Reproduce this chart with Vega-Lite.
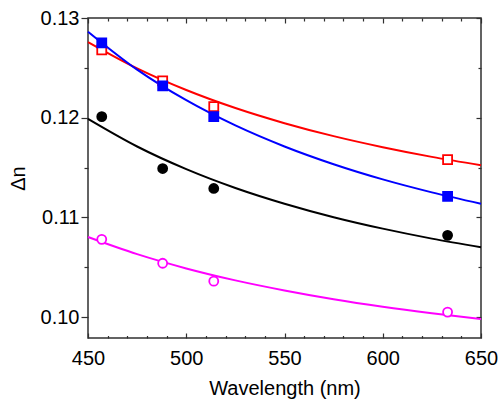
{
  "$schema": "https://vega.github.io/schema/vega-lite/v6.json",
  "width": 393,
  "height": 320,
  "padding": 8,
  "config": {
    "font": "Liberation Sans",
    "view": {"stroke": "#303030", "strokeWidth": 1.5},
    "axis": {"grid": false, "domain": false, "tickColor": "#303030", "tickWidth": 1.2}
  },
  "datasets": {
    "measured": [
      {"series": "UCF-N1", "wavelength": 457, "dn": 0.1268},
      {"series": "UCF-N1", "wavelength": 488, "dn": 0.1237},
      {"series": "UCF-N1", "wavelength": 514, "dn": 0.1211},
      {"series": "UCF-N1", "wavelength": 633, "dn": 0.1158},
      {"series": "HAV", "wavelength": 457, "dn": 0.1201},
      {"series": "HAV", "wavelength": 488, "dn": 0.1149},
      {"series": "HAV", "wavelength": 514, "dn": 0.1129},
      {"series": "HAV", "wavelength": 633, "dn": 0.1082},
      {"series": "ZOC", "wavelength": 457, "dn": 0.1078},
      {"series": "ZOC", "wavelength": 488, "dn": 0.1054},
      {"series": "ZOC", "wavelength": 514, "dn": 0.1036},
      {"series": "ZOC", "wavelength": 633, "dn": 0.1005},
      {"series": "UCF-N2", "wavelength": 457, "dn": 0.1275},
      {"series": "UCF-N2", "wavelength": 488, "dn": 0.1232},
      {"series": "UCF-N2", "wavelength": 514, "dn": 0.1201},
      {"series": "UCF-N2", "wavelength": 633, "dn": 0.1121}
    ],
    "fit": [
      {"curve": "UCF-N1", "wavelength": 450, "fit": 0.12759},
      {"curve": "UCF-N1", "wavelength": 475, "fit": 0.12495},
      {"curve": "UCF-N1", "wavelength": 500, "fit": 0.12278},
      {"curve": "UCF-N1", "wavelength": 525, "fit": 0.12097},
      {"curve": "UCF-N1", "wavelength": 550, "fit": 0.11945},
      {"curve": "UCF-N1", "wavelength": 575, "fit": 0.11815},
      {"curve": "UCF-N1", "wavelength": 600, "fit": 0.11704},
      {"curve": "UCF-N1", "wavelength": 625, "fit": 0.11607},
      {"curve": "UCF-N1", "wavelength": 650, "fit": 0.11523},
      {"curve": "UCF-N2", "wavelength": 450, "fit": 0.12863},
      {"curve": "UCF-N2", "wavelength": 475, "fit": 0.12482},
      {"curve": "UCF-N2", "wavelength": 500, "fit": 0.12175},
      {"curve": "UCF-N2", "wavelength": 525, "fit": 0.11922},
      {"curve": "UCF-N2", "wavelength": 550, "fit": 0.11711},
      {"curve": "UCF-N2", "wavelength": 575, "fit": 0.11533},
      {"curve": "UCF-N2", "wavelength": 600, "fit": 0.11381},
      {"curve": "UCF-N2", "wavelength": 625, "fit": 0.11251},
      {"curve": "UCF-N2", "wavelength": 650, "fit": 0.11137},
      {"curve": "HAV", "wavelength": 450, "fit": 0.11988},
      {"curve": "HAV", "wavelength": 475, "fit": 0.11711},
      {"curve": "HAV", "wavelength": 500, "fit": 0.11484},
      {"curve": "HAV", "wavelength": 525, "fit": 0.11295},
      {"curve": "HAV", "wavelength": 550, "fit": 0.11137},
      {"curve": "HAV", "wavelength": 575, "fit": 0.11002},
      {"curve": "HAV", "wavelength": 600, "fit": 0.10887},
      {"curve": "HAV", "wavelength": 625, "fit": 0.10787},
      {"curve": "HAV", "wavelength": 650, "fit": 0.10700},
      {"curve": "ZOC", "wavelength": 450, "fit": 0.10803},
      {"curve": "ZOC", "wavelength": 475, "fit": 0.10631},
      {"curve": "ZOC", "wavelength": 500, "fit": 0.10488},
      {"curve": "ZOC", "wavelength": 525, "fit": 0.10368},
      {"curve": "ZOC", "wavelength": 550, "fit": 0.10267},
      {"curve": "ZOC", "wavelength": 575, "fit": 0.10179},
      {"curve": "ZOC", "wavelength": 600, "fit": 0.10104},
      {"curve": "ZOC", "wavelength": 625, "fit": 0.10039},
      {"curve": "ZOC", "wavelength": 650, "fit": 0.09981}
    ]
  },
  "layer": [
    {
      "data": {"name": "fit"},
      "mark": {"type": "line", "strokeWidth": 2, "interpolate": "monotone"},
      "encoding": {
        "x": {"field": "wavelength", "type": "quantitative",
          "scale": {"domain": [450, 650], "nice": false, "zero": false},
          "axis": {"orient": "top", "labels": false, "title": null, "values": [450, 500, 550, 600, 650], "tickSize": -5}},
        "y": {"field": "fit", "type": "quantitative",
          "scale": {"domain": [0.0979, 0.13], "nice": false, "zero": false},
          "axis": {"orient": "right", "labels": false, "title": null, "values": [0.1, 0.11, 0.12, 0.13], "tickSize": -5}},
        "stroke": {"field": "curve", "type": "nominal",
          "scale": {"domain": ["UCF-N1", "HAV", "ZOC", "UCF-N2"], "range": ["#ff0000", "#000000", "#ff00ff", "#0000ff"]},
          "legend": null}
      }
    },
    {
      "data": {"name": "measured"},
      "mark": {"type": "point", "opacity": 0},
      "encoding": {
        "x": {"field": "wavelength", "type": "quantitative",
          "axis": {"orient": "top", "labels": false, "title": null,
            "values": [460,470,480,490,510,520,530,540,560,570,580,590,610,620,630,640], "tickSize": -3}},
        "y": {"field": "dn", "type": "quantitative",
          "axis": {"orient": "right", "labels": false, "title": null, "values": [0.105, 0.115, 0.125], "tickSize": -3}}
      }
    },
    {
      "data": {"name": "measured"},
      "mark": {"type": "point", "opacity": 0},
      "encoding": {
        "x": {"field": "wavelength", "type": "quantitative",
          "axis": {"orient": "bottom", "labels": false, "title": null,
            "values": [460,470,480,490,510,520,530,540,560,570,580,590,610,620,630,640], "tickSize": -2.5}},
        "y": {"field": "dn", "type": "quantitative",
          "axis": {"orient": "left", "labels": false, "title": null, "values": [0.105, 0.115, 0.125], "tickSize": 4}}
      }
    },
    {
      "data": {"name": "measured"},
      "mark": {"type": "point", "filled": false, "size": 81, "strokeWidth": 1.8, "opacity": 1},
      "encoding": {
        "x": {"field": "wavelength", "type": "quantitative",
          "axis": {"orient": "bottom", "title": "Wavelength (nm)", "titleFontSize": 20, "titleFontWeight": "normal", "labelFontSize": 20,
            "titlePadding": 10, "values": [450, 500, 550, 600, 650], "labelFlush": false, "labelPadding": 15, "tickSize": -5}},
        "y": {"field": "dn", "type": "quantitative",
          "axis": {"orient": "left", "title": "Δn", "titleFontSize": 20, "titleFontWeight": "normal", "labelFontSize": 20,
            "titlePadding": 12, "values": [0.1, 0.11, 0.12, 0.13], "format": ".2f", "labelPadding": 2, "tickSize": 7}},
        "color": {"field": "series", "type": "nominal",
          "scale": {"domain": ["UCF-N1", "HAV", "ZOC", "UCF-N2"], "range": ["#ff0000", "#000000", "#ff00ff", "#0000ff"]},
          "legend": {"orient": "none", "legendX": 262, "legendY": 6, "title": null, "padding": 8, "strokeColor": "#999999",
            "labelFontSize": 18, "symbolSize": 70, "rowPadding": 4, "labelOffset": 16}},
        "fill": {"field": "series", "type": "nominal",
          "scale": {"domain": ["UCF-N1", "HAV", "ZOC", "UCF-N2"], "range": ["#ffffff", "#000000", "#ffffff", "#0000ff"]},
          "legend": null},
        "shape": {"field": "series", "type": "nominal",
          "scale": {"domain": ["UCF-N1", "HAV", "ZOC", "UCF-N2"], "range": ["square", "circle", "circle", "square"]}}
      }
    }
  ],
  "resolve": {"axis": {"x": "independent", "y": "independent"}}
}
